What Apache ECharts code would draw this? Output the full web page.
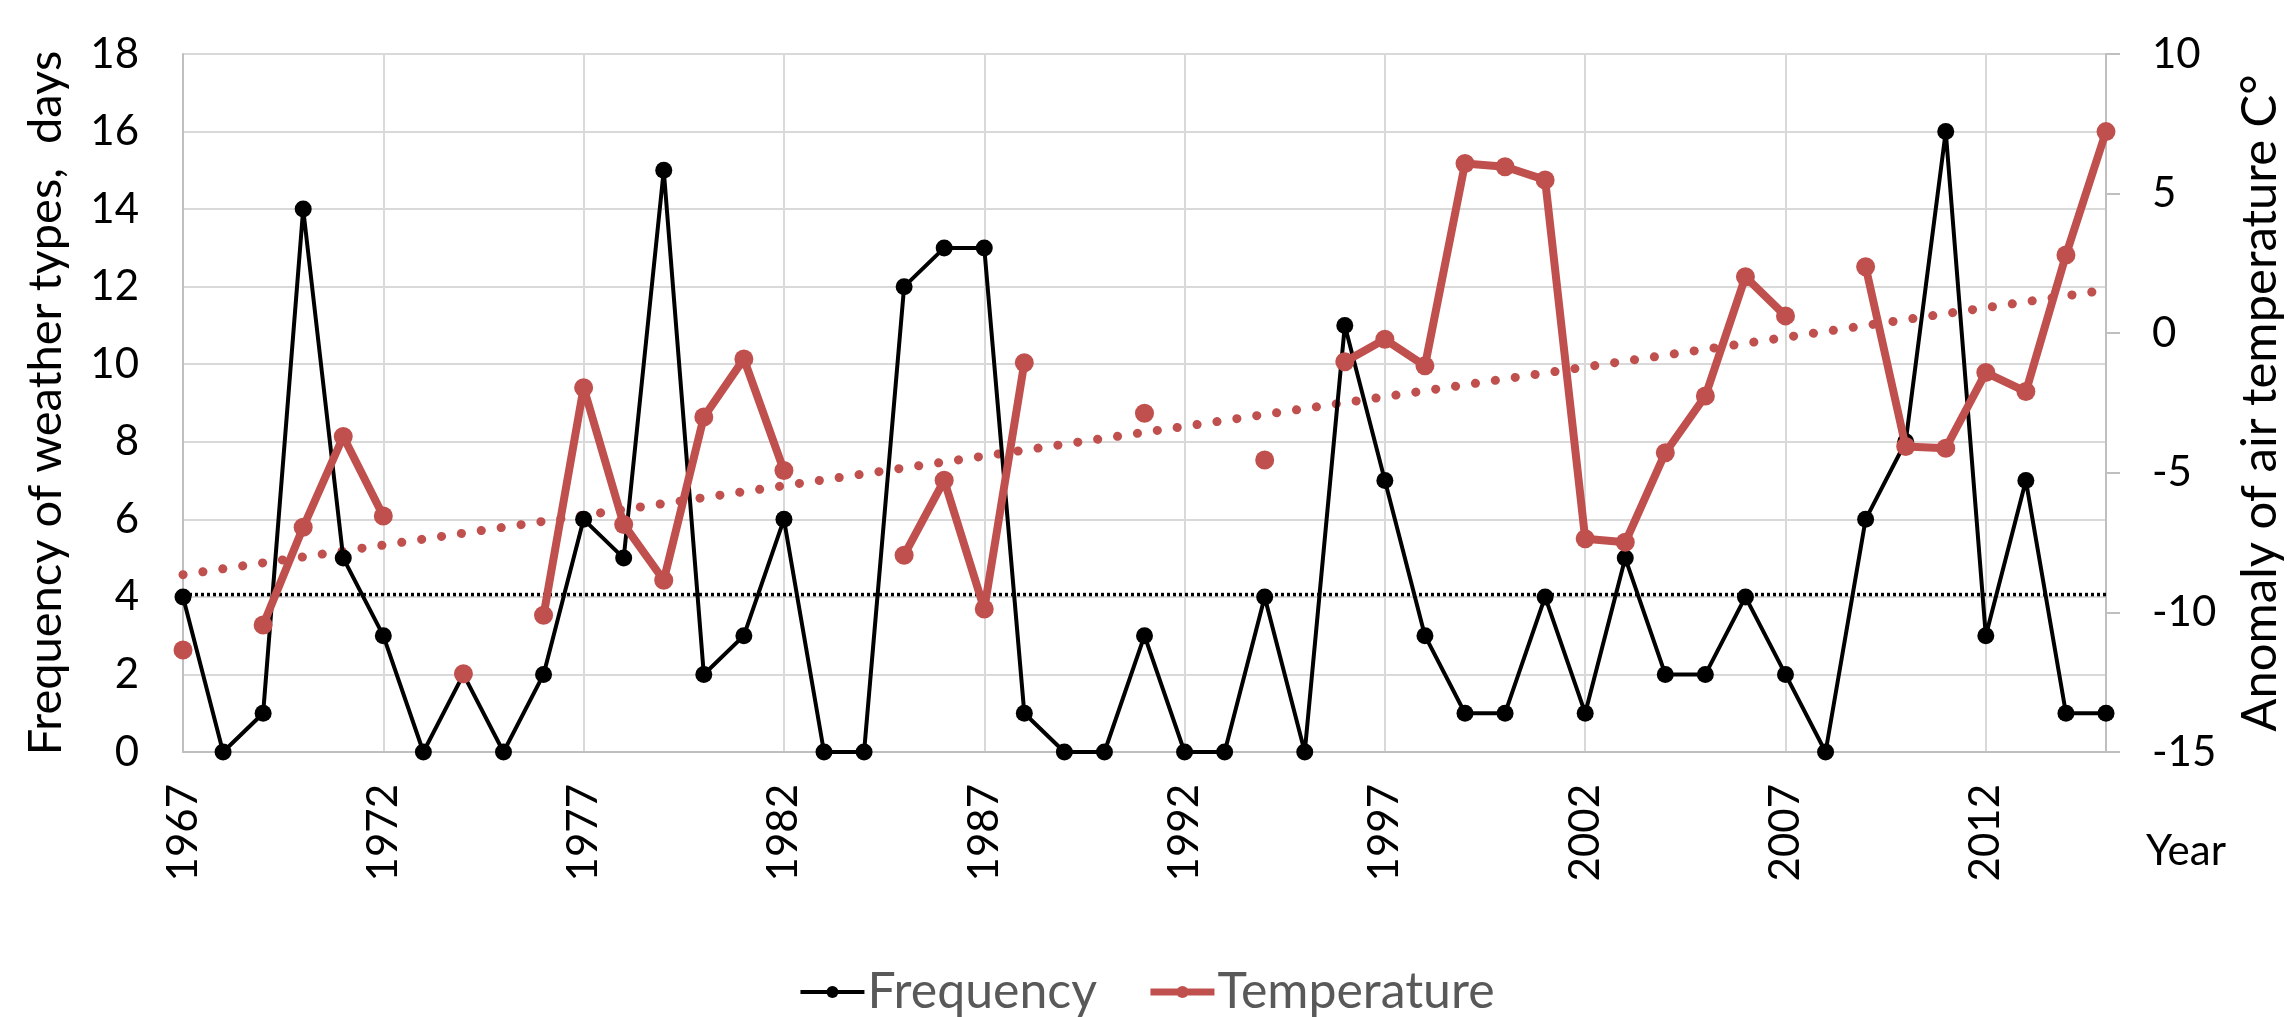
<!DOCTYPE html>
<html>
<head>
<meta charset="utf-8">
<script src="https://cdn.jsdelivr.net/npm/echarts@6/dist/echarts.min.js"></script>
<style>html,body{margin:0;padding:0;background:#fff}#c{width:2293px;height:1017px}</style>
</head>
<body>
<div id="c"></div>
<script>
const years = [];
for (let y = 1967; y <= 2015; y++) years.push(String(y));

const frequency = [4,0,1,14,5,3,0,2,0,2, 6,5,15,2,3,6,0,0,12,13, 13,1,0,0,3,0,0,4,0,11, 7,3,1,1,4,1,5,2,2,4, 2,0,6,8,16,3,7,1,1];

const temperature = [-11.35,null,-10.45,-6.95,-3.7,-6.55,null,-12.2,null,-10.1,
  -1.95,-6.85,-8.85,-3.0,-0.92,-4.92,null,null,-7.95,-5.27,
  -9.88,-1.06,null,null,-2.87,null,null,-4.54,null,-1.02,
  -0.22,-1.17,6.08,5.96,5.49,-7.36,-7.49,-4.28,-2.25,2.02,
  0.62,null,2.38,-4.06,-4.12,-1.41,-2.09,2.8,7.22];

// trend line endpoints and mean frequency level
const trendStart = -8.65, trendEnd = 1.55;
const meanFrequency = 4.06;

const freqTicks = {min:0, max:18, interval:2};
const tempTicks = {min:-15, max:10, interval:5};

const n = years.length;
const trend = years.map((_, i) => i === 0 ? trendStart : (i === n - 1 ? trendEnd : null));
const meanLine = years.map((_, i) => (i === 0 || i === n - 1) ? meanFrequency : null);

const FONT = 'Lato';
const RED = '#C0504D';
const chart = echarts.init(document.getElementById('c'), null, {renderer: 'canvas'});
chart.setOption({
  animation: false,
  textStyle: {fontFamily: FONT},
  grid: {left: 183, right: 185, top: 54, bottom: 265, containLabel: false},
  legend: {
    data: [
      {name: 'Frequency', lineStyle: {width: 4}},
      {name: 'Temperature', lineStyle: {width: 7}}
    ],
    top: 962,
    left: 'center',
    itemWidth: 64,
    itemHeight: 15,
    itemGap: 50,
    textStyle: {fontFamily: FONT, fontSize: 50, color: '#595959', padding: [0, 0, 0, -2]}
  },
  xAxis: {
    type: 'category',
    data: years,
    boundaryGap: false,
    axisLine: {show: true, lineStyle: {color: '#bfbfbf', width: 2}},
    axisTick: {show: false},
    axisLabel: {interval: 4, rotate: 90, margin: 32, color: '#000', fontSize: 42, fontFamily: FONT},
    splitLine: {show: true, interval: 4, lineStyle: {color: '#d9d9d9', width: 2}}
  },
  yAxis: [
    {
      type: 'value', min: freqTicks.min, max: freqTicks.max, interval: freqTicks.interval,
      name: 'Frequency of weather types,  days',
      nameLocation: 'middle', nameGap: 114, nameRotate: 90,
      nameTextStyle: {color: '#000', fontSize: 47, fontFamily: FONT},
      axisLine: {show: true, lineStyle: {color: '#bfbfbf', width: 2}},
      axisTick: {show: false},
      axisLabel: {color: '#000', fontSize: 42, margin: 44, fontFamily: FONT},
      splitLine: {show: true, lineStyle: {color: '#d9d9d9', width: 2}}
    },
    {
      type: 'value', min: tempTicks.min, max: tempTicks.max, interval: tempTicks.interval,
      position: 'right',
      name: 'Anomaly of air temperature C°',
      nameLocation: 'middle', nameGap: 130, nameRotate: 90,
      nameTextStyle: {color: '#000', fontSize: 49, fontFamily: FONT},
      axisLine: {show: true, lineStyle: {color: '#bfbfbf', width: 2}},
      axisTick: {show: true, length: 14, lineStyle: {color: '#bfbfbf', width: 2}},
      axisLabel: {color: '#000', fontSize: 42, margin: 46, fontFamily: FONT},
      splitLine: {show: false}
    }
  ],
  graphic: [{
    type: 'text', left: 2146, top: 830,
    style: {text: 'Year', font: '42px Lato', fill: '#000'}
  }],
  series: [
    {
      name: 'Frequency', type: 'line', yAxisIndex: 0, data: frequency,
      symbol: 'circle', symbolSize: 17,
      itemStyle: {color: '#000'},
      lineStyle: {color: '#000', width: 4},
      z: 3
    },
    {
      name: 'MeanFrequency', type: 'line', yAxisIndex: 0, data: meanLine,
      connectNulls: true, symbol: 'none',
      lineStyle: {color: '#000', width: 3.5, type: [3, 3]},
      z: 2
    },
    {
      name: 'Trend', type: 'line', yAxisIndex: 1, data: trend,
      connectNulls: true, symbol: 'none',
      lineStyle: {color: RED, width: 9, type: [0.1, 20], cap: 'round'},
      z: 2
    },
    {
      name: 'Temperature', type: 'line', yAxisIndex: 1, data: temperature,
      connectNulls: false,
      symbol: 'circle', symbolSize: 19,
      itemStyle: {color: RED},
      lineStyle: {color: RED, width: 8},
      z: 4
    }
  ]
});
</script>
</body>
</html>
